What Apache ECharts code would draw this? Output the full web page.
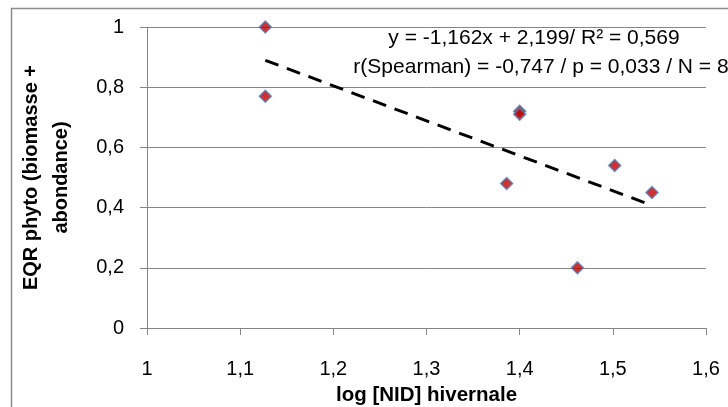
<!DOCTYPE html>
<html><head><meta charset="utf-8">
<script src="https://cdn.jsdelivr.net/npm/echarts@6/dist/echarts.min.js"></script>
<style>html,body{margin:0;padding:0;background:#fff}#c{width:728px;height:407px}</style>
</head><body><div id="c"></div>
<script>
const xValues = [1.127, 1.127, 1.400, 1.400, 1.386, 1.462, 1.502, 1.542];
const yValues = [1.00, 0.77, 0.72, 0.71, 0.48, 0.20, 0.54, 0.45];
const trendSlope = -1.162;
const trendIntercept = 2.199;
const equationText = 'y = -1,162x + 2,199/ R² = 0,569';
const statsText = 'r(Spearman) = -0,747 / p = 0,033 / N = 8';
const xTitle = 'log [NID] hivernale';
const yTitle = 'EQR phyto (biomasse +\nabondance)';

const fmt = v => String(Math.round(v * 10) / 10).replace('.', ',');
const xmin = Math.min(...xValues), xmax = Math.max(...xValues);
const trend = [[xmin, trendSlope * xmin + trendIntercept], [xmax, trendSlope * xmax + trendIntercept]];
const pts = xValues.map((x, i) => [x, yValues[i]]);
const FONT = 'Liberation Sans';
const chart = echarts.init(document.getElementById('c'), null, {renderer: 'canvas'});
chart.setOption({
  animation: false,
  backgroundColor: '#fff',
  grid: {left: 147, right: 22, top: 27, bottom: 79, containLabel: false, outerBoundsMode: 'none'},
  xAxis: {
    type: 'value', min: 1, max: 1.6, interval: 0.1,
    axisLine: {lineStyle: {color: '#868686', width: 1}},
    axisTick: {show: true, length: 7, lineStyle: {color: '#868686'}},
    splitLine: {show: false},
    axisLabel: {formatter: fmt, color: '#000', fontFamily: FONT, fontSize: 20, margin: 31},
    name: xTitle, nameLocation: 'middle', nameGap: 57,
    nameTextStyle: {fontFamily: FONT, fontSize: 20.5, fontWeight: 'bold', color: '#000'}
  },
  yAxis: {
    type: 'value', min: 0, max: 1, interval: 0.2,
    axisLine: {show: true, lineStyle: {color: '#868686', width: 1}},
    axisTick: {show: true, length: 7, lineStyle: {color: '#868686'}},
    splitLine: {show: true, lineStyle: {color: '#868686', width: 1}},
    axisLabel: {formatter: v => String(v).replace('.', ','), color: '#000', fontFamily: FONT, fontSize: 20, margin: 23},
    name: yTitle, nameLocation: 'middle', nameGap: 71, nameRotate: 90,
    nameTextStyle: {fontFamily: FONT, fontSize: 20, fontWeight: 'bold', color: '#000', lineHeight: 30}
  },
  graphic: [
    {type: 'rect', shape: {x: 11.5, y: 8.5, width: 760, height: 450}, style: {fill: 'none', stroke: '#8c8c8c', lineWidth: 1.5}, silent: true, z: 100},
    {type: 'text', x: 534, y: 38, style: {text: equationText, font: '21px "' + FONT + '"', fill: '#000', align: 'center', verticalAlign: 'middle'}},
    {type: 'text', x: 541, y: 67, style: {text: statsText, font: '21px "' + FONT + '"', fill: '#000', align: 'center', verticalAlign: 'middle'}}
  ],
  series: [
    {type: 'line', data: trend, symbol: 'none', lineStyle: {color: '#000', width: 3, type: [14, 9]}, z: 2},
    {type: 'scatter', data: pts, symbol: 'diamond', symbolSize: 12,
     itemStyle: {color: '#C00000', borderColor: '#4F81BD', borderWidth: 1.5}, z: 3}
  ]
});
</script></body></html>
